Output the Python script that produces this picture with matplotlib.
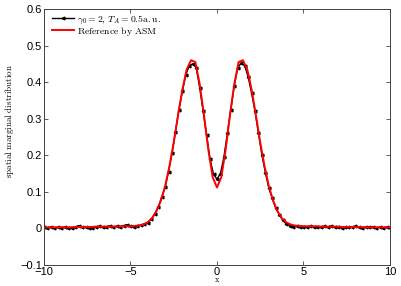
import matplotlib
matplotlib.use("Agg")
import matplotlib.pyplot as plt
import numpy as np

# reference curve (ASM), sampled every 0.25 from -10 to 10
ref_x = np.arange(-10.0, 10.001, 0.25)
ref_y = [
    0.003, 0.003, 0.003, 0.003, 0.003, 0.003, 0.003, 0.004,   # -10 .. -8.25
    0.004, 0.004, 0.004, 0.004, 0.005, 0.005, 0.005, 0.005,   # -8 .. -6.25
    0.005, 0.005, 0.006, 0.006, 0.006, 0.007, 0.008, 0.011,   # -6 .. -4.25
    0.017, 0.028, 0.047, 0.075, 0.115, 0.170, 0.235, 0.310,   # -4 .. -2.25
    0.380, 0.435, 0.460, 0.455, 0.395, 0.310, 0.215, 0.140,   # -2 .. -0.25
    0.112, 0.140, 0.215, 0.310, 0.395, 0.455, 0.460, 0.435,   # 0 .. 1.75
    0.380, 0.310, 0.235, 0.170, 0.115, 0.075, 0.047, 0.028,   # 2 .. 3.75
    0.017, 0.011, 0.008, 0.007, 0.006, 0.006, 0.006, 0.006,   # 4 .. 5.75
    0.005, 0.005, 0.005, 0.005, 0.005, 0.004, 0.004, 0.004,   # 6 .. 7.75
    0.004, 0.004, 0.003, 0.003, 0.003, 0.003, 0.003, 0.003,   # 8 .. 9.75
    0.003,                                                    # 10
]

# simulation, gamma0 = 2, T_A = 0.5 a.u., every 0.2 from -10 to 10
sim_x = np.arange(-10.0, 10.001, 0.2)
sim_y = [
    0.003, 0.002, 0.004, 0.001, 0.003, 0.002, 0.004, 0.002, 0.001, 0.003,
    0.008, 0.003, 0.005, 0.002, 0.001, 0.004, 0.006, 0.003, 0.005, 0.007,
    0.004, 0.006, 0.005, 0.008, 0.010, 0.006, 0.004, 0.008, 0.009, 0.012,
    0.016, 0.025, 0.040, 0.058, 0.085, 0.112, 0.155, 0.205, 0.265, 0.325,
    0.375, 0.420, 0.445, 0.450, 0.440, 0.385, 0.320, 0.255, 0.190, 0.148,
    0.135,
    0.150, 0.195, 0.260, 0.325, 0.390, 0.440, 0.452, 0.445, 0.415, 0.370,
    0.320, 0.260, 0.200, 0.152, 0.110, 0.082, 0.055, 0.038, 0.022, 0.013,
    0.008, 0.005, 0.007, 0.004, 0.005, 0.003, 0.006, 0.004, 0.005, 0.003,
    0.006, 0.004, 0.007, 0.003, 0.005, 0.002, 0.004, 0.005, 0.003, 0.006,
    0.003, 0.002, 0.004, 0.003, 0.005, 0.002, 0.003, 0.001, 0.004, 0.002,
]

x_ticks = [-10, -5, 0, 5, 10]
y_ticks = [-0.1, 0, 0.1, 0.2, 0.3, 0.4, 0.5, 0.6]

plt.rcParams["mathtext.fontset"] = "cm"
plt.rcParams["font.family"] = ["Liberation Sans", "DejaVu Sans"]

fig = plt.figure(figsize=(4.01, 2.86), dpi=100)
ax = fig.add_axes([0.1097, 0.0734, 0.8628, 0.8951])

ax.plot(sim_x, sim_y, color="black", linewidth=1.0, marker="<", markersize=2,
        label=r"$\gamma_0=2,\, T_A=0.5\mathrm{a.u.}$")
ax.plot(ref_x, ref_y, color="red", linewidth=1.4,
        label=r"$\mathrm{Reference\ by\ ASM}$")

ax.set_xlim(-10, 10)
ax.set_ylim(-0.1, 0.6)
ax.set_xticks(x_ticks)
ax.set_xticklabels(["\u221210", "\u22125", "0", "5", "10"])
ax.set_yticks(y_ticks)
ax.set_yticklabels(["\u22120.1", "0", "0.1", "0.2", "0.3", "0.4", "0.5", "0.6"])
ax.tick_params(direction="in", top=True, right=True, length=3, width=0.6,
               labelsize=8, pad=1.5, colors="#404040", labelcolor="black")
for s in ax.spines.values():
    s.set_linewidth(0.7)
    s.set_color("#404040")

ax.set_xlabel(r"$\mathrm{x}$", fontsize=6, labelpad=-1)
ax.set_ylabel(r"$\mathrm{spatial\ marginal\ distribution}$", fontsize=6.5)
ax.yaxis.set_label_coords(-0.08, 0.5625)

ax.legend(loc="upper left", fontsize=7, frameon=False, handlelength=2.3,
          handletextpad=0.25, labelspacing=-0.1, borderpad=0,
          borderaxespad=0, bbox_to_anchor=(0.023, 0.985))

fig.savefig("out.png", dpi=100)
